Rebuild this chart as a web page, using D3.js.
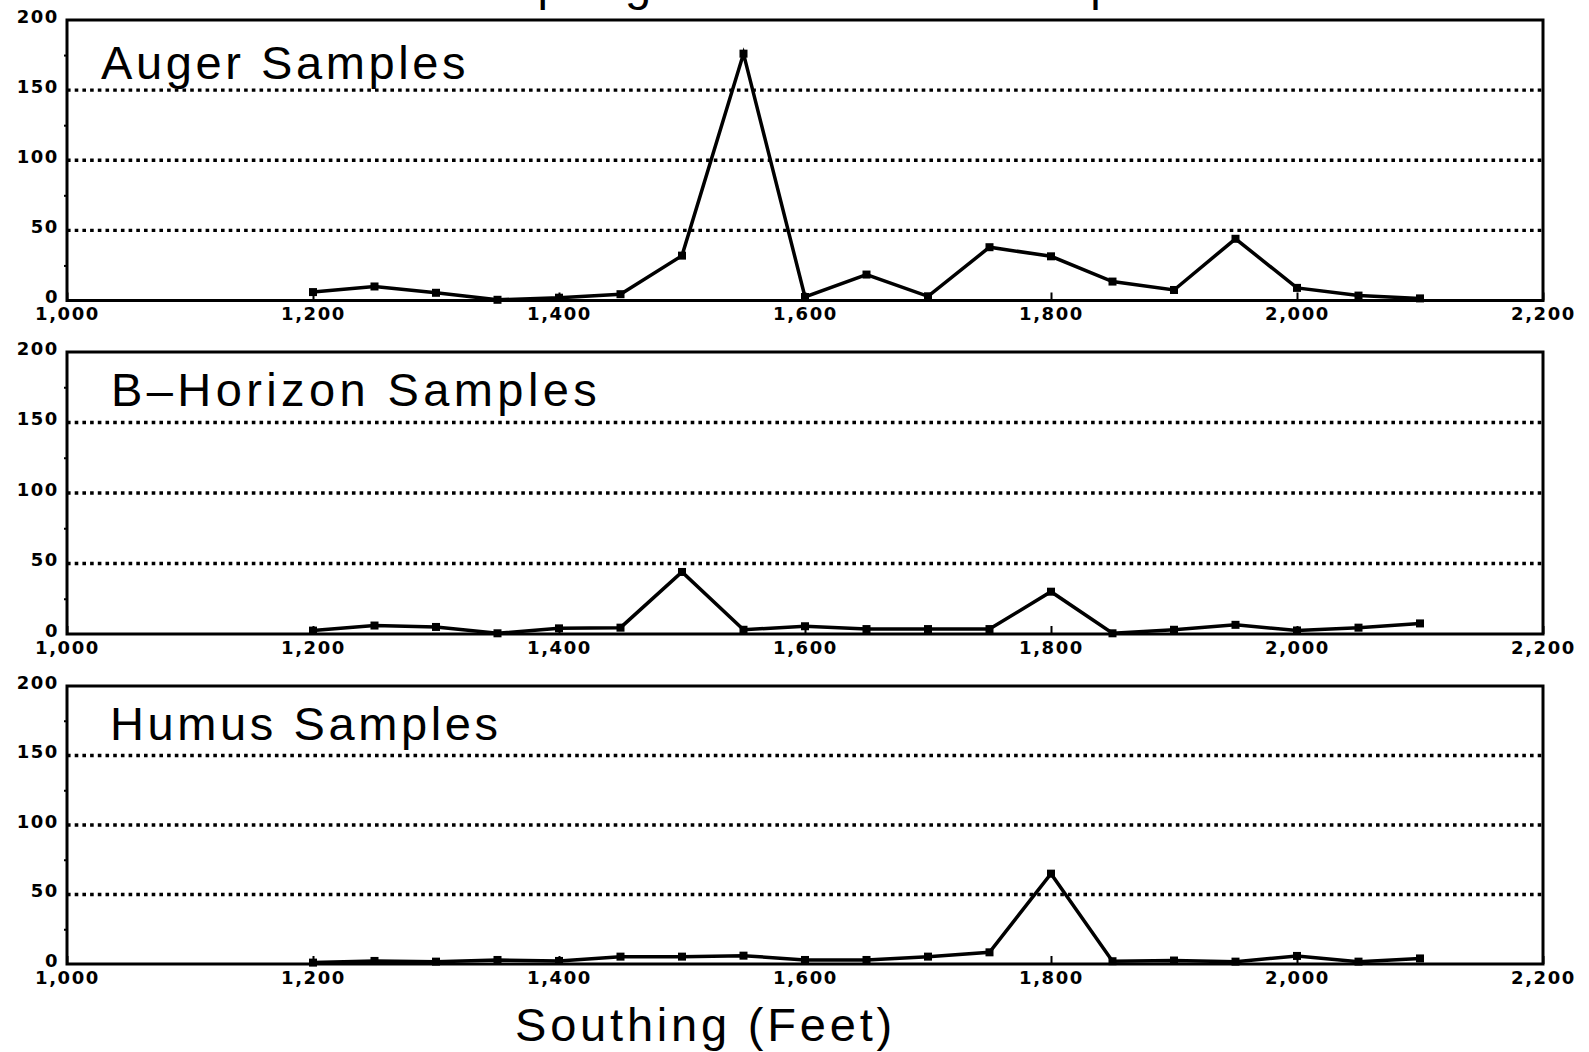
<html>
<head>
<style>
body { margin: 0; background: #ffffff; }
</style>
</head>
<body>
<svg id="plot"></svg>
<script src="https://d3js.org/d3.v7.min.js"></script>
<script>

// data (ppb, by southing in feet)
var southing = [1200,1250,1300,1350,1400,1450,1500,1550,1600,1650,
                1700,1750,1800,1850,1900,1950,2000,2050,2100]

var augerValues = [6,10,5.5,0.5,2,4.5,32,176,2.5,18.5,
                   3,38,31.5,13.5,7.5,44,9,3.5,1.5]

var bHorizonValues = [2.4,6,5,0.5,4,4.5,44,3,5.5,3.5,
                      3.5,3.5,30,0.5,3,6.5,2.5,4.5,7.5]

var humusValues = [1,2.2,1.7,2.9,2.2,5.3,5.3,6,2.9,2.9,
                   5.3,8.4,65,2,2.5,1.7,5.8,1.7,4]

var panelNames = ["Auger Samples","B\u2013Horizon Samples","Humus Samples"]

var xTicks = [1000,1200,1400,1600,1800,2000,2200]
var yTicks = [0,50,100,150,200]
var yMinorTicks = [25,75,125,175]
var gridValues = [50,100,150]

var titleText = "Sampling Gold Values Comparison"
var xLabel = "Southing (Feet)"

// layout
var screen = {width:1589, height:1052}
var plotLeft = 67, plotRight = 1543
var panels = [
    {top:20,  bottom:300.5, labelX:101, labelDy:59, spacing:3.6},
    {top:352, bottom:634,   labelX:111, labelDy:54, spacing:4.4},
    {top:686, bottom:964,   labelX:110, labelDy:54, spacing:3.6}
]
var series = [augerValues, bHorizonValues, humusValues]

var bigFont = "'Liberation Sans', Arial, sans-serif"
var tickFont = "'DejaVu Sans', sans-serif"

var svg = d3.select("#plot")
    .attr("width",screen.width)
    .attr("height",screen.height)

var xScale = d3.scaleLinear()
    .domain([1000,2200])
    .range([plotLeft,plotRight])

var styleTicks = function(sel)
{
    sel.attr("fill","black")
        .style("font-family",tickFont)
        .style("font-weight","bold")
        .style("font-size","18px")
        .style("letter-spacing","1.6px")
}

var drawPanel = function(i)
{
    var p = panels[i]
    var yScale = d3.scaleLinear()
        .domain([0,200])
        .range([p.bottom,p.top])

    var g = svg.append("g").classed("panel",true)

    //dotted grid
    g.selectAll("line.grid")
        .data(gridValues)
        .enter()
        .append("line")
        .classed("grid",true)
        .attr("x1",plotLeft)
        .attr("x2",plotRight)
        .attr("y1",function(d){return yScale(d)})
        .attr("y2",function(d){return yScale(d)})
        .attr("stroke","black")
        .attr("stroke-width",3.4)
        .attr("stroke-dasharray","3.6 4.1")

    //x axis, ticks pointing in
    var xAxis = d3.axisBottom(xScale)
        .tickValues(xTicks)
        .tickFormat(d3.format(","))
        .tickSizeInner(-8)
        .tickSizeOuter(0)
        .tickPadding(7)

    var xa = g.append("g")
        .attr("transform","translate(0,"+p.bottom+")")
        .call(xAxis)
    xa.select(".domain").remove()
    xa.selectAll("line").attr("stroke","black").attr("stroke-width",2)
    styleTicks(xa.selectAll("text"))

    //y axis labels
    var yAxis = d3.axisLeft(yScale)
        .tickValues(yTicks)
        .tickSize(0)
        .tickPadding(8)

    var ya = g.append("g")
        .attr("transform","translate("+plotLeft+",0)")
        .call(yAxis)
    ya.select(".domain").remove()
    styleTicks(ya.selectAll("text").attr("dy","0.12em"))

    //little minor ticks on the left side
    var ym = g.append("g")
        .attr("transform","translate("+plotLeft+",0)")
        .call(d3.axisLeft(yScale).tickValues(yMinorTicks).tickSize(3).tickFormat(""))
    ym.select(".domain").remove()
    ym.selectAll("line").attr("stroke","black").attr("stroke-width",2)

    //frame
    g.append("rect")
        .attr("x",xScale(1000))
        .attr("y",yScale(200))
        .attr("width",xScale(2200)-xScale(1000))
        .attr("height",yScale(0)-yScale(200))
        .attr("fill","none")
        .attr("stroke","black")
        .attr("stroke-width",3)

    //panel name
    g.append("text")
        .text(panelNames[i])
        .attr("x",p.labelX)
        .attr("y",p.top+p.labelDy)
        .style("font-family",bigFont)
        .style("font-size","47px")
        .style("letter-spacing",p.spacing+"px")
        .attr("fill","black")

    var values = series[i]
    var line = d3.line()
        .x(function(d,j){return xScale(southing[j])})
        .y(function(d){return yScale(d)})

    g.append("path")
        .datum(values)
        .attr("d",line)
        .attr("fill","none")
        .attr("stroke","black")
        .attr("stroke-width",3.5)
        .attr("stroke-linejoin","miter")

    g.selectAll("rect.marker")
        .data(values)
        .enter()
        .append("rect")
        .classed("marker",true)
        .attr("x",function(d,j){return xScale(southing[j])-4})
        .attr("y",function(d){return yScale(d)-4})
        .attr("width",8)
        .attr("height",8)
        .attr("fill","black")
}

for (var i = 0; i < panels.length; i++)
{
    drawPanel(i)
}

//title sits above the page, only the descenders show
svg.append("text")
    .text(titleText)
    .attr("x",430)
    .attr("y",-0.5)
    .style("font-family",bigFont)
    .style("font-size","47px")
    .style("letter-spacing","3.6px")
    .attr("fill","black")

svg.append("text")
    .text(xLabel)
    .attr("x",515)
    .attr("y",1041)
    .style("font-family",bigFont)
    .style("font-size","47px")
    .style("letter-spacing","3.8px")
    .attr("fill","black")

</script>
</body>
</html>
